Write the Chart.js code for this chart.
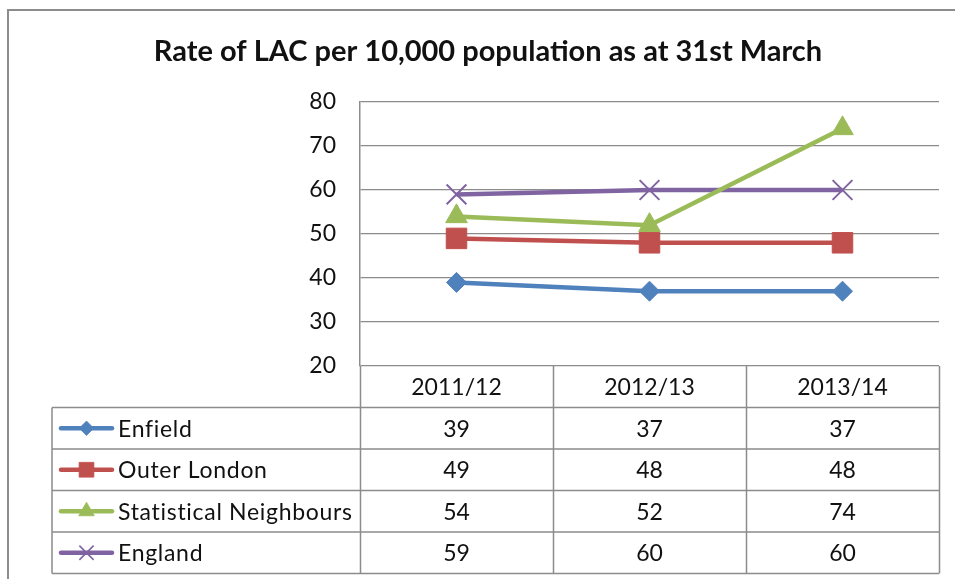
<!DOCTYPE html>
<html><head><meta charset="utf-8">
<script src="https://cdn.jsdelivr.net/npm/chart.js@4"></script>
<style>html,body{margin:0;padding:0;background:#fff}canvas{display:block}</style>
</head><body>
<canvas id="c" width="955" height="579"></canvas>
<script>
// ---- data ----
const chartTitle = "Rate of LAC per 10,000 population as at 31st March";
const categories = ["2011/12", "2012/13", "2013/14"];
const seriesNames = ["Enfield", "Outer London", "Statistical Neighbours", "England"];
const enfield = [39, 37, 37];
const outerLondon = [49, 48, 48];
const statNeighbours = [54, 52, 74];
const england = [59, 60, 60];
const yMin = 20, yMax = 80, yStep = 10;

// ---- styles ----
const FONT = 'Lato, "Liberation Sans", sans-serif';
const LINE_GREY = '#8c8c8c';
const TEXT = '#111';
const colors = ['#4F81BD', '#C0504D', '#9BBB59', '#8064A2'];
const markerStyles = ['rectRot', 'rect', 'triangle', 'crossRot'];
const markerRadius = [10, 14.5, 12.5, 14];
const markerBorder = [1, 1, 1, 2];
const seriesValues = [enfield, outerLondon, statNeighbours, england];

const datasets = seriesNames.map((name, i) => ({
  label: name,
  data: seriesValues[i],
  borderColor: colors[i],
  backgroundColor: colors[i],
  borderWidth: 4.5,
  pointStyle: markerStyles[i],
  pointRadius: markerRadius[i],
  pointHoverRadius: markerRadius[i],
  pointBackgroundColor: colors[i],
  pointBorderColor: colors[i],
  pointBorderWidth: markerBorder[i],
  tension: 0,
  fill: false
}));

function drawMarker(ctx, style, x, y, r, color, bw) {
  ctx.save();
  ctx.fillStyle = color; ctx.strokeStyle = color; ctx.lineWidth = bw;
  ctx.beginPath();
  if (style === 'rectRot') {
    ctx.moveTo(x - r, y); ctx.lineTo(x, y - r); ctx.lineTo(x + r, y); ctx.lineTo(x, y + r); ctx.closePath();
    ctx.fill(); ctx.stroke();
  } else if (style === 'rect') {
    const s = r * Math.SQRT1_2;
    ctx.rect(x - s, y - s, 2 * s, 2 * s); ctx.fill(); ctx.stroke();
  } else if (style === 'triangle') {
    let a = 0;
    ctx.moveTo(x + Math.sin(a) * r, y - Math.cos(a) * r);
    a += 2 * Math.PI / 3; ctx.lineTo(x + Math.sin(a) * r, y - Math.cos(a) * r);
    a += 2 * Math.PI / 3; ctx.lineTo(x + Math.sin(a) * r, y - Math.cos(a) * r);
    ctx.closePath(); ctx.fill(); ctx.stroke();
  } else if (style === 'crossRot') {
    const d = r * Math.SQRT1_2;
    ctx.moveTo(x - d, y - d); ctx.lineTo(x + d, y + d);
    ctx.moveTo(x - d, y + d); ctx.lineTo(x + d, y - d);
    ctx.stroke();
  }
  ctx.restore();
}

const frameTitlePlugin = {
  id: 'frameTitle',
  beforeDraw(chart) {
    const ctx = chart.ctx;
    ctx.save();
    ctx.fillStyle = '#fff';
    ctx.fillRect(0, 0, chart.width, chart.height);
    ctx.strokeStyle = LINE_GREY; ctx.lineWidth = 2;
    ctx.beginPath();
    ctx.moveTo(8, chart.height + 2); ctx.lineTo(8, 10); ctx.lineTo(chart.width + 2, 10);
    ctx.stroke();
    ctx.fillStyle = TEXT;
    ctx.font = 'bold 29px ' + FONT;
    ctx.textAlign = 'center'; ctx.textBaseline = 'middle';
    ctx.fillText(chartTitle, 488, 52);
    ctx.restore();
  }
};

const ROW_H = 41.5;
const TABLE_LEFT = 52;
const tablePlugin = {
  id: 'dataTable',
  afterDraw(chart) {
    const ctx = chart.ctx, ca = chart.chartArea, xs = chart.scales.x;
    const n = categories.length;
    const half = (xs.getPixelForValue(1) - xs.getPixelForValue(0)) / 2;
    const top = ca.bottom;
    const rows = seriesNames.length;
    const bottom = top + ROW_H * (rows + 1);
    ctx.save();
    ctx.strokeStyle = LINE_GREY; ctx.lineWidth = 1.5;
    ctx.beginPath();
    for (let i = 0; i <= n; i++) {
      const x = i < n ? xs.getPixelForValue(i) - half : xs.getPixelForValue(n - 1) + half;
      ctx.moveTo(Math.round(x) + 0.5, top); ctx.lineTo(Math.round(x) + 0.5, bottom);
    }
    ctx.moveTo(TABLE_LEFT, top + ROW_H); ctx.lineTo(TABLE_LEFT, bottom);
    for (let r = 1; r <= rows + 1; r++) {
      const y = top + ROW_H * r;
      ctx.moveTo(TABLE_LEFT, y); ctx.lineTo(ca.right, y);
    }
    ctx.stroke();

    ctx.fillStyle = TEXT;
    ctx.textAlign = 'center'; ctx.textBaseline = 'middle';
    ctx.font = '23px ' + FONT;
    categories.forEach((c, i) => ctx.fillText(c, xs.getPixelForValue(i), top + ROW_H / 2 + 1));
    seriesValues.forEach((vals, r) => {
      const yc = top + ROW_H * (r + 1) + ROW_H / 2 + 1;
      vals.forEach((v, i) => ctx.fillText(String(v), xs.getPixelForValue(i), yc));
    });
    seriesNames.forEach((name, r) => {
      const yc = top + ROW_H * (r + 1) + ROW_H / 2;
      ctx.save();
      ctx.strokeStyle = colors[r]; ctx.lineWidth = 4.5; ctx.lineCap = 'round';
      ctx.beginPath(); ctx.moveTo(61, yc); ctx.lineTo(112, yc); ctx.stroke();
      ctx.restore();
      drawMarker(ctx, markerStyles[r], 86.5, yc, markerRadius[r] * 0.72, colors[r], markerBorder[r] * 0.8);
      ctx.save();
      ctx.fillStyle = TEXT;
      ctx.textAlign = 'left';
      ctx.font = '23px ' + FONT;
      try { ctx.letterSpacing = '0.7px'; } catch (e) {}
      ctx.fillText(name, 118, yc + 1);
      ctx.restore();
    });
    ctx.restore();
  }
};

new Chart(document.getElementById('c'), {
  type: 'line',
  data: { labels: categories, datasets },
  options: {
    responsive: false,
    animation: false,
    events: [],
    layout: { padding: { left: 0, top: 102, right: 15, bottom: 579 - 366 } },
    plugins: { legend: { display: false }, title: { display: false }, tooltip: { enabled: false } },
    scales: {
      x: { type: 'category', offset: true, display: false },
      y: {
        min: yMin, max: yMax,
        ticks: { stepSize: yStep, padding: 24, color: TEXT, font: { family: FONT, size: 23 } },
        grid: { color: LINE_GREY, lineWidth: 1.3, drawTicks: false },
        border: { display: true, color: LINE_GREY, width: 1.5 },
        afterFit(s) { s.width = 360; }
      }
    }
  },
  plugins: [frameTitlePlugin, tablePlugin]
});
</script>
</body></html>
